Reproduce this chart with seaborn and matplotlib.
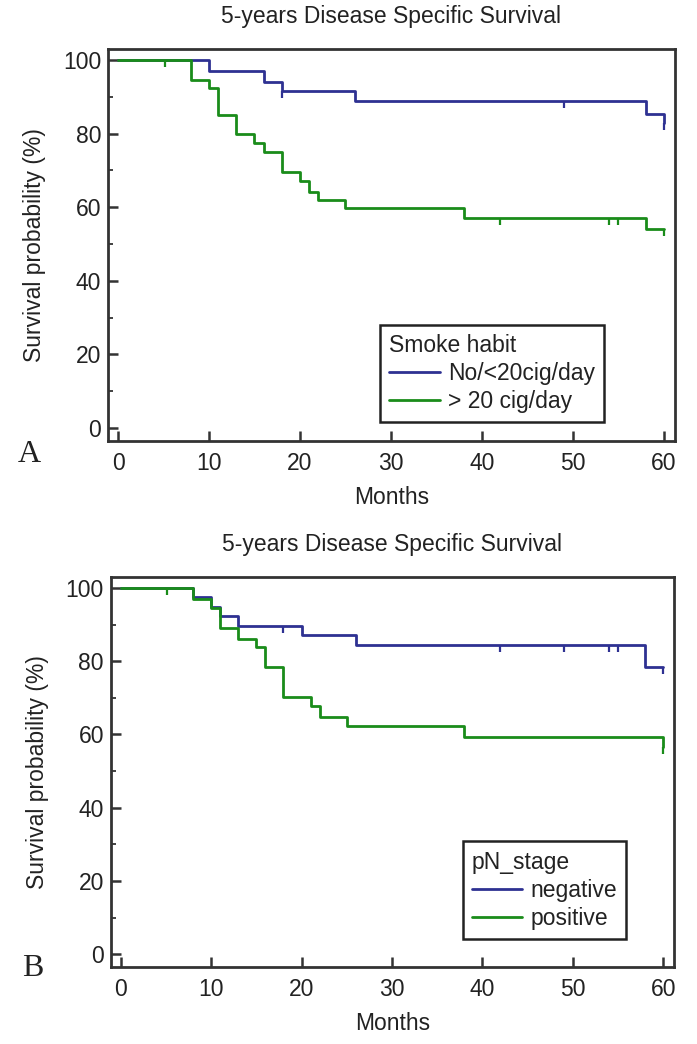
import numpy as np
import pandas as pd
import seaborn as sns
import matplotlib.pyplot as plt
from matplotlib.ticker import FixedLocator

# Panel A - smoke habit
a_low_months = [0, 10, 16, 18, 26, 58, 60]
a_low_surv = [100, 97.0, 94.1, 91.7, 88.9, 85.3, 83.0]
a_low_cens = [18, 49, 60]

a_high_months = [0, 8, 10, 11, 13, 15, 16, 18, 20, 21, 22, 25, 38, 58, 60]
a_high_surv = [100, 94.7, 92.5, 85.0, 79.8, 77.5, 74.9, 69.7, 67.1, 64.2, 62.0, 59.9, 57.0, 54.1, 54.1]
a_high_cens = [5.2, 42, 54, 55, 60]

# Panel B - pN stage
b_neg_months = [0, 8, 10, 11, 13, 20, 26, 58, 60]
b_neg_surv = [100, 97.5, 94.8, 92.3, 89.7, 87.1, 84.5, 78.3, 78.3]
b_neg_cens = [18, 42, 49, 54, 55, 60]

b_pos_months = [0, 8, 10, 11, 13, 15, 16, 18, 21, 22, 25, 38, 60]
b_pos_surv = [100, 97.0, 94.5, 89.1, 86.1, 83.8, 78.4, 70.2, 67.7, 64.9, 62.2, 59.2, 56.5]
b_pos_cens = [5.1, 60]

title = '5-years Disease Specific Survival'
x_ticks = [0, 10, 20, 30, 40, 50, 60]
y_ticks = [0, 20, 40, 60, 80, 100]
y_minor = [10, 30, 50, 70, 90]

BLUE = '#2e3192'
GREEN = '#1a8c1a'
TXT = '#222222'
FS = 16.5

sns.set_style('white')
plt.rcParams['font.family'] = ['Liberation Sans', 'DejaVu Sans']
plt.rcParams['text.color'] = TXT
plt.rcParams['axes.labelcolor'] = TXT
plt.rcParams['xtick.color'] = '#333333'
plt.rcParams['ytick.color'] = '#333333'
plt.rcParams['xtick.labelcolor'] = TXT
plt.rcParams['ytick.labelcolor'] = TXT


def level(months, surv, t):
    i = np.searchsorted(months, t, side='right') - 1
    return np.asarray(surv)[i]


def km_panel(ax, groups, legend_title, anchor):
    frames = []
    for name, m, s, c in groups:
        frames.append(pd.DataFrame({'Months': m, 'Survival': s, 'group': name}))
    df = pd.concat(frames, ignore_index=True)
    names = [g[0] for g in groups]
    sns.lineplot(data=df, x='Months', y='Survival', hue='group', hue_order=names,
                 palette=[BLUE, GREEN], estimator=None, drawstyle='steps-post',
                 linewidth=2.0, ax=ax, legend=True)
    # censored observations as small downward ticks
    for (name, m, s, c), col in zip(groups, [BLUE, GREEN]):
        ax.plot(c, [level(m, s, t) for t in c], linestyle='none', marker=3,
                markersize=5, mew=1.6, color=col)

    ax.set_xlim(-1.1, 61.2)
    ax.set_ylim(-3.5, 103.0)
    ax.set_xticks(x_ticks)
    ax.set_yticks(y_ticks)
    ax.yaxis.set_minor_locator(FixedLocator(y_minor))
    ax.tick_params(axis='both', which='major', direction='in', length=7.5, width=1.8,
                   labelsize=FS, bottom=True, left=True, top=False, right=False)
    ax.tick_params(axis='y', which='minor', direction='in', length=3.5, width=1.3,
                   left=True, right=False)
    ax.tick_params(axis='x', pad=8)
    ax.tick_params(axis='y', pad=5)
    for sp in ax.spines.values():
        sp.set_visible(True)
        sp.set_color('#333333')
        sp.set_linewidth(2.0)

    ax.set_title(title, fontsize=FS, pad=19, color=TXT)
    ax.set_xlabel('Months', fontsize=FS, labelpad=8)
    ax.set_ylabel('Survival probability (%)', fontsize=FS, labelpad=12)

    handles, labels = ax.get_legend_handles_labels()
    leg = ax.legend(handles[:2], labels[:2], title=legend_title, loc='lower right',
                    bbox_to_anchor=anchor, borderaxespad=0, frameon=True,
                    fancybox=False, framealpha=1, edgecolor='#222222',
                    fontsize=FS, title_fontsize=FS, handlelength=2.2,
                    handletextpad=0.35, borderpad=0.4, labelspacing=0.22,
                    alignment='left')
    leg.get_frame().set_linewidth(1.8)
    for ln in leg.get_lines():
        ln.set_linewidth(2.0)


fig = plt.figure(figsize=(6.97, 10.44), dpi=100)
ax1 = fig.add_axes([0.155, 0.5776, 0.813, 0.3755])
ax2 = fig.add_axes([0.159, 0.0738, 0.808, 0.3735])

km_panel(ax1,
         [('No/<20cig/day', a_low_months, a_low_surv, a_low_cens),
          ('> 20 cig/day', a_high_months, a_high_surv, a_high_cens)],
         'Smoke habit', (0.875, 0.048))
km_panel(ax2,
         [('negative', b_neg_months, b_neg_surv, b_neg_cens),
          ('positive', b_pos_months, b_pos_surv, b_pos_cens)],
         'pN_stage', (0.915, 0.072))

fig.text(29 / 697, 1 - 454 / 1044, 'A', family='Liberation Serif', fontsize=23,
         ha='center', va='center', color=TXT)
fig.text(33 / 697, 1 - 969 / 1044, 'B', family='Liberation Serif', fontsize=23,
         ha='center', va='center', color=TXT)

fig.savefig('out.png', dpi=100, facecolor='white')
